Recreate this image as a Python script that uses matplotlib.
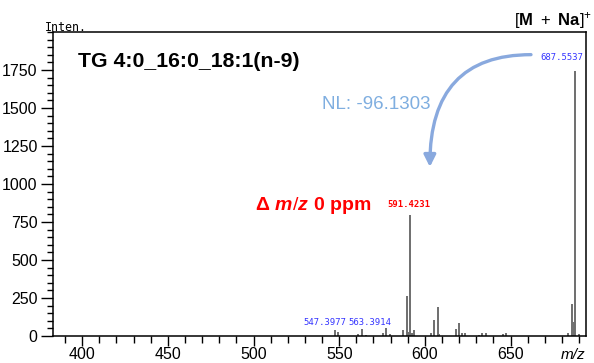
import numpy as np
import matplotlib.pyplot as plt
from matplotlib.ticker import MultipleLocator

plt.rcParams['mathtext.fontset'] = 'custom'
plt.rcParams['mathtext.rm'] = 'Liberation Sans'
plt.rcParams['mathtext.bf'] = 'Liberation Sans:bold'
plt.rcParams['mathtext.it'] = 'Liberation Sans:italic:bold'

# peak list (m/z, intensity)
mz = [547.40, 549.40, 561.20, 563.39, 565.40, 575.40, 577.50, 579.50,
      587.40, 589.41, 590.40, 591.42, 592.43, 593.40, 603.30, 605.40,
      607.42, 608.40, 617.90, 619.80, 621.60, 623.50, 631.60, 633.60,
      635.50, 645.60, 647.60, 683.60, 685.54, 687.20, 687.55, 689.80]
inten = [42, 26, 16, 46, 9, 20, 55, 11,
         37, 261, 24, 799, 20, 37, 22, 103,
         188, 10, 44, 84, 20, 18, 9, 20,
         20, 16, 22, 20, 209, 92, 1745, 16]

blue_labels = ['547.3977', '563.3914']
blue_pos = [(541.7, 89), (568.1, 89)]
top_label = '687.5537'
frag_label = '591.4231'

fig = plt.figure(figsize=(5.94, 3.63), dpi=100)
ax = fig.add_axes([53 / 594, 27 / 363, 533 / 594, 304 / 363])

ax.vlines(mz, 0, inten, colors='#6e6e6e', lw=1.4)

ax.set_xlim(383, 694)
ax.set_ylim(0, 2000)
ax.xaxis.set_major_locator(MultipleLocator(50))
ax.xaxis.set_minor_locator(MultipleLocator(10))
ax.yaxis.set_major_locator(MultipleLocator(250))
ax.yaxis.set_minor_locator(MultipleLocator(50))
ax.set_yticks(np.arange(0, 2000, 250))
ax.tick_params(axis='y', which='major', length=9, width=1, pad=2, labelsize=11.5)
ax.tick_params(axis='y', which='minor', length=4.5, width=1)
ax.tick_params(axis='x', which='major', length=7, width=1, pad=1, labelsize=11.5)
ax.tick_params(axis='x', which='minor', length=5, width=1)
for lab in ax.get_xticklabels() + ax.get_yticklabels():
    lab.set_family(['Liberation Sans Narrow', 'Liberation Sans'])
for s in ax.spines.values():
    s.set_linewidth(1.1)

# peak labels
for txt, (x, y) in zip(blue_labels, blue_pos):
    ax.text(x, y, txt, color='#3535ff', fontsize=6.4, family='DejaVu Sans Mono',
            ha='center', va='center')
ax.text(692.6, 1834, top_label, color='#3535ff', fontsize=6.4,
        family='DejaVu Sans Mono', ha='right', va='center')
ax.text(590.9, 866, frag_label, color='#ff0000', fontsize=6.4,
        family='DejaVu Sans Mono', fontweight='bold', ha='center', va='center')

ax.text(0.047, 0.886, 'TG 4:0_16:0_18:1(n-9)', transform=ax.transAxes,
        fontsize=15.3, fontweight='bold', family='Liberation Sans', va='baseline')
ax.text(500.6, 860, r'$\mathbf{\Delta}\ \mathit{m/z}\ \mathbf{0\ ppm}$',
        color='#ff0000', fontsize=14, ha='left', va='center')
ax.text(539.8, 1496, 'NL: -96.1303', color='#7faee0', fontsize=13.5,
        family='Liberation Sans', va='baseline')

ax.annotate('', xy=(602.9, 1112), xytext=(661.9, 1851),
            arrowprops=dict(arrowstyle='-|>,head_width=0.35,head_length=0.7',
                            connectionstyle='angle3,angleA=0,angleB=90',
                            color='#89a9de', lw=2.4, shrinkA=0, shrinkB=0))

fig.text(45 / 594, 1 - 30.7 / 363, 'Inten.', family='DejaVu Sans Mono',
         fontsize=8.4, va='baseline')
fig.text(592 / 594, 1 - 25 / 363, r'$[\mathbf{M}\ +\ \mathbf{Na}]^{+}$',
         fontsize=12, ha='right', va='baseline')
fig.text(585 / 594, 1 - 359.3 / 363, 'm/z', style='italic',
         family='Liberation Sans', fontsize=11, ha='right', va='baseline')

fig.savefig('out.png', dpi=100)
